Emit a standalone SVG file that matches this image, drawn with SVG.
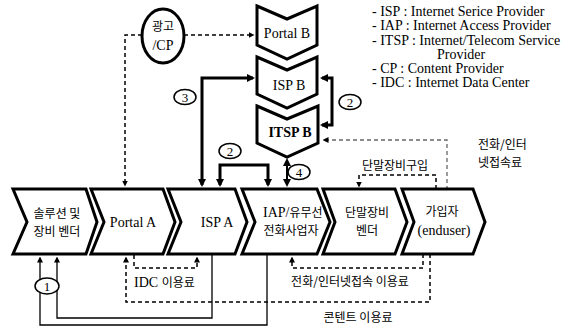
<svg xmlns="http://www.w3.org/2000/svg" width="581" height="329" viewBox="0 0 581 329">
<style>
text{font-family:"Liberation Serif","Times New Roman",serif;font-size:14px;fill:#000}
.k{font-family:"Noto Sans CJK KR",sans-serif;font-size:12px}
.c{text-anchor:middle}
.node{fill:#fff;stroke:#000;stroke-width:3;stroke-linejoin:miter}
.thick{fill:none;stroke:#000;stroke-width:3}
.mid{fill:none;stroke:#000;stroke-width:2}
.thin{fill:none;stroke:#000;stroke-width:1.3}
.dash{fill:none;stroke:#000;stroke-width:1.5;stroke-dasharray:4 3}
.gdash{fill:none;stroke:#666;stroke-width:1.3;stroke-dasharray:4 3}
.lab{fill:#fff;stroke:#000;stroke-width:1.5}
.num{font-size:13px;text-anchor:middle}
</style>
<defs>
<marker id="a" viewBox="0 0 8 8" refX="6" refY="4" markerWidth="8" markerHeight="8" markerUnits="userSpaceOnUse" orient="auto-start-reverse"><path d="M0,0 L8,4 L0,8 z" fill="#000"/></marker>
<marker id="s" viewBox="0 0 8 8" refX="6" refY="4" markerWidth="6" markerHeight="6" markerUnits="userSpaceOnUse" orient="auto-start-reverse"><path d="M0,0 L8,4 L0,8 z" fill="#000"/></marker>
</defs>

<g id="legend">
<text x="372" y="16">- ISP : Internet Serice Provider</text>
<text x="372" y="30">- IAP : Internet Access Provider</text>
<text x="372" y="45">- ITSP : Internet/Telecom Service</text>
<text x="437" y="59">Provider</text>
<text x="372" y="73">- CP : Content Provider</text>
<text x="372" y="87">- IDC : Internet Data Center</text>
</g>

<g id="connectors">
<path class="dash" d="M184,35 H253" marker-end="url(#s)"/>
<path class="dash" d="M142,35 H125 V185" marker-end="url(#s)"/>
<path class="thick" d="M202,185 V78 H253" marker-start="url(#a)" marker-end="url(#a)"/>
<path class="thick" d="M220,185 V165 H268 V185" marker-start="url(#a)" marker-end="url(#a)"/>
<path class="mid" d="M287,160 V185" marker-start="url(#a)" marker-end="url(#a)"/>
<path class="thick" d="M322,78 H332 V125 H322" marker-start="url(#a)" marker-end="url(#a)"/>
<path class="gdash" d="M447,190 V140 H324" marker-end="url(#s)"/>
<path class="dash" d="M436,189 V175 H359 V186" marker-end="url(#s)"/>
<path class="dash" d="M134,255 V268 H197 V258" marker-end="url(#s)"/>
<path class="dash" d="M423,254 V268 H292 V258" marker-end="url(#s)"/>
<path class="dash" d="M430,254 V302 H126 V258" marker-end="url(#s)"/>
<path class="thin" d="M212,254 V318 H57 V258" marker-end="url(#s)"/>
<path class="thin" d="M267,254 V325 H40 V258" marker-end="url(#s)"/>
</g>

<g id="n-adcp">
<ellipse cx="163" cy="36" rx="21" ry="27" fill="#fff" stroke="#000" stroke-width="3"/>
<text class="c k" x="163" y="31">광고</text>
<text class="c" x="163" y="50">/CP</text>
</g>

<g id="n-portalb">
<path class="node" d="M257,6 L287,19 L317,6 V45 L287,59 L257,45 Z"/>
<text class="c" x="287" y="38">Portal B</text>
</g>
<g id="n-ispb">
<path class="node" d="M257,57 L287,70 L317,57 V94 L287,108 L257,94 Z"/>
<text class="c" x="289" y="90">ISP B</text>
</g>
<g id="n-itspb">
<path class="node" d="M257,106 L287,119 L318,106 V143 L287,157 L257,143 Z"/>
<text class="c" x="290" y="137" font-weight="bold">ITSP B</text>
</g>

<g id="n-vendor">
<path class="node" d="M13,189 H86 L97,222 L86,254 H13 L27,222 Z"/>
<text class="c k" x="57" y="218">솔루션 및</text>
<text class="c k" x="57" y="236">장비 벤더</text>
</g>
<g id="n-portala">
<path class="node" d="M91,189 H163 L175,222 L163,254 H91 L104,222 Z"/>
<text class="c" x="133" y="227">Portal A</text>
</g>
<g id="n-ispa">
<path class="node" d="M168,189 H235 L247,222 L235,254 H168 L181,222 Z"/>
<text class="c" x="217" y="227">ISP A</text>
</g>
<g id="n-iap">
<path class="node" d="M242,189 H317 L330,222 L317,254 H242 L255,222 Z"/>
<text x="263" y="217">IAP/<tspan class="k">유무선</tspan></text>
<text class="c k" x="291" y="235">전화사업자</text>
</g>
<g id="n-device">
<path class="node" d="M323,189 H395 L407,222 L395,254 H323 L335,222 Z"/>
<text class="c k" x="367" y="217">단말장비</text>
<text class="c k" x="367" y="235">벤더</text>
</g>
<g id="n-user">
<path class="node" d="M402,189 H473 L485,222 L473,254 H402 L414,222 Z"/>
<text class="c k" x="442" y="216">가입자</text>
<text class="c" x="444" y="235">(enduser)</text>
</g>

<g id="labels">
<ellipse class="lab" cx="185" cy="97" rx="11" ry="7.5"/><text class="num" x="185" y="101.5">3</text>
<ellipse class="lab" cx="230" cy="151" rx="11" ry="7.5"/><text class="num" x="230" y="155.5">2</text>
<ellipse class="lab" cx="350" cy="102" rx="11" ry="7.5"/><text class="num" x="350" y="106.5">2</text>
<ellipse class="lab" cx="299" cy="172" rx="11" ry="7.5"/><text class="num" x="299" y="176.5">4</text>
<ellipse class="lab" cx="47" cy="286" rx="12" ry="8"/><text class="num" x="47" y="290.5">1</text>
<text class="k" x="478" y="149">전화/인터</text>
<text class="k" x="478" y="167">넷접속료</text>
<text class="k c" x="395" y="170">단말장비구입</text>
<text x="134" y="287">IDC <tspan class="k">이용료</tspan></text>
<text class="k c" x="350" y="286">전화/인터넷접속 이용료</text>
<text class="k c" x="358" y="322">콘텐트 이용료</text>
</g>
</svg>
